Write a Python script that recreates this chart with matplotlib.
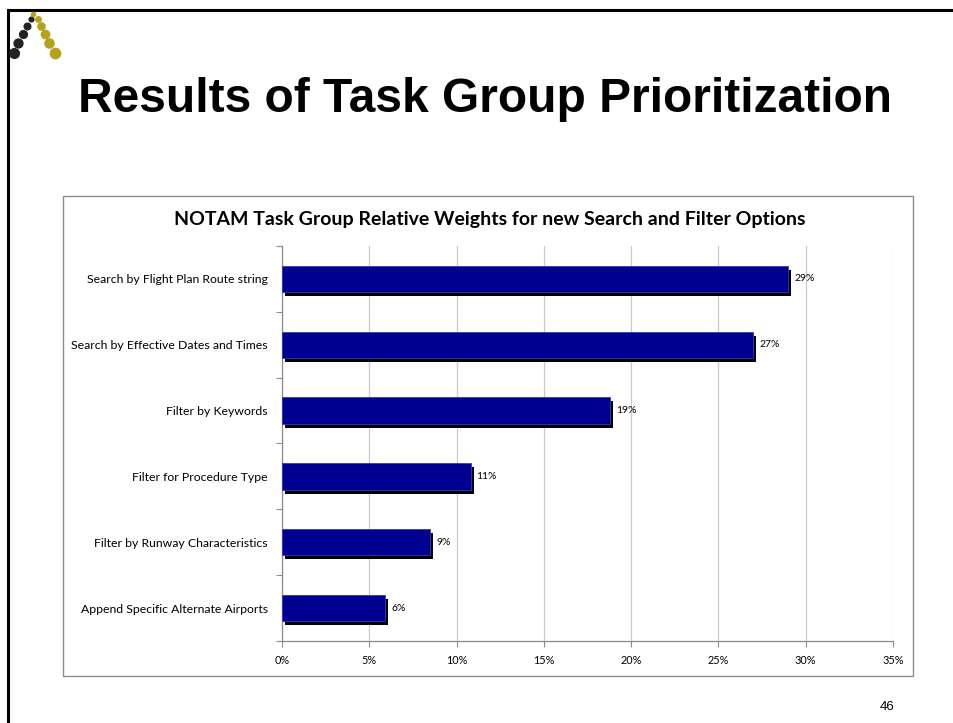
import matplotlib.pyplot as plt
import matplotlib.transforms as mtransforms
from matplotlib.patches import Rectangle
from matplotlib.lines import Line2D
import numpy as np

# data
categories = ["Search by Flight Plan Route string",
              "Search by Effective Dates and Times",
              "Filter by Keywords",
              "Filter for Procedure Type",
              "Filter by Runway Characteristics",
              "Append Specific Alternate Airports"]
weights = [0.290, 0.270, 0.188, 0.108, 0.085, 0.059]
value_labels = ["29%", "27%", "19%", "11%", "9%", "6%"]
xticks = [0, 0.05, 0.10, 0.15, 0.20, 0.25, 0.30, 0.35]

fig = plt.figure(figsize=(9.54, 7.23), dpi=100)

# slide border (top and left)
fig.add_artist(Line2D([8/954, 1], [1 - 10/723, 1 - 10/723], color="black", lw=2.2))
fig.add_artist(Line2D([8/954, 8/954], [0, 1 - 10/723], color="black", lw=2.2))

# logo dots (x px, y px, diameter pt)
dark = [(31, 19, 3.4), (27, 26, 4.8), (23, 34, 5.6), (18, 43, 6.4), (14, 53, 7.0)]
gold = [(33, 14, 3.0), (38, 19, 4.0), (41, 26, 5.2), (45, 34, 6.0), (49, 43, 6.6), (55, 53, 7.4)]
for px, py, s in dark:
    fig.add_artist(Line2D([px/954], [1 - py/723], marker="o", markersize=s,
                          color="#222222", lw=0))
for px, py, s in gold:
    fig.add_artist(Line2D([px/954], [1 - py/723], marker="o", markersize=s,
                          color="#b5a21c", lw=0))

fig.text(485/954, 1 - 100/723, "Results of Task Group Prioritization",
         ha="center", va="center", fontsize=34.5, fontweight="bold", family="Liberation Sans")
fig.text(887/954, 1 - 707/723, "46", ha="center", va="center", fontsize=9.5,
         family="Liberation Sans")

# chart frame
fig.add_artist(Rectangle((63/954, 1 - 676/723), 850/954, 480/723, transform=fig.transFigure,
                         fill=False, edgecolor="#8c8c8c", lw=1))
fig.text(490/954, 1 - 220/723, "NOTAM Task Group Relative Weights for new Search and Filter Options",
         ha="center", va="center", fontsize=14, fontweight="bold", family="Lato")

ax = fig.add_axes([282/954, 1 - 641/723, 611/954, 395/723])
y = np.arange(len(categories))[::-1]

shadow = mtransforms.offset_copy(ax.transData, fig=fig, x=3, y=-4, units="dots")
ax.barh(y, weights, height=0.4, color="black", transform=shadow, zorder=2, clip_on=False)
ax.barh(y, weights, height=0.4, color="#000090", edgecolor="#3a3ab8", lw=0.6, zorder=3)

for yi, w, lab in zip(y, weights, value_labels):
    ax.text(w + 0.0035, yi, lab, va="center", ha="left", fontsize=7.5, family="Lato", zorder=4)

ax.set_xlim(0, 0.35)
ax.set_ylim(-0.5, len(categories) - 0.5)
ax.set_xticks(xticks)
ax.set_xticklabels([f"{int(round(t*100))}%" for t in xticks], fontsize=7.8, family="Lato")
ax.set_yticks(y)
ax.set_yticklabels(categories, fontsize=8.8, family="Lato")
ax.set_yticks(np.arange(-0.5, len(categories)), minor=True)
ax.tick_params(axis="y", which="major", length=0, pad=10)
ax.tick_params(axis="y", which="minor", length=4, color="#8c8c8c", width=0.8)
ax.tick_params(axis="x", length=4, color="#8c8c8c", width=0.8, pad=6)
ax.grid(axis="x", color="#c8c8c8", lw=0.9, zorder=0)
ax.set_axisbelow(True)
for side in ["top", "right"]:
    ax.spines[side].set_visible(False)
for side in ["left", "bottom"]:
    ax.spines[side].set_color("#8c8c8c")
    ax.spines[side].set_linewidth(0.9)

fig.savefig("out.png", dpi=100)
